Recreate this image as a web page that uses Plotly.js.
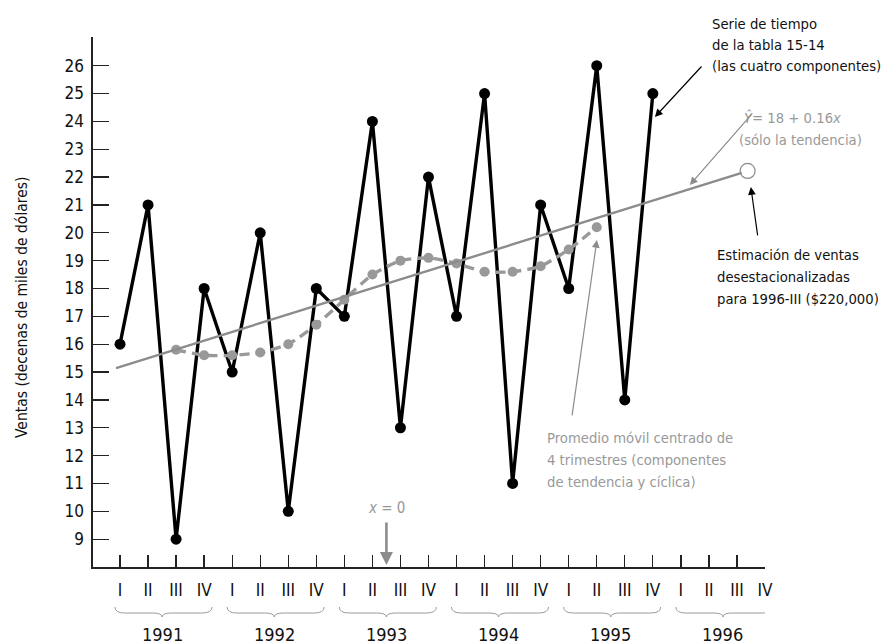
<!DOCTYPE html>
<html>
<head>
<meta charset="utf-8">
<script src="https://cdn.plot.ly/plotly-3.0.1.min.js"></script>
<style>html,body{margin:0;padding:0;background:#fff;}#chart{width:883px;height:644px;}</style>
</head>
<body>
<div id="chart"></div>
<script>
// ---- data ----
const quarters = ['I', 'II', 'III', 'IV'];
const years = [1991, 1992, 1993, 1994, 1995, 1996];
const sales = [16, 21, 9, 18, 15, 20, 10, 18, 17, 24, 13, 22, 17, 25, 11, 21, 18, 26, 14, 25];
const movingAvg = [15.8, 15.6, 15.6, 15.7, 16.0, 16.7, 17.6, 18.5, 19.0, 19.1, 18.9, 18.6, 18.6, 18.8, 19.4, 20.2];
const movingAvgStart = 2; // first centred average sits at 1991-III
const trendX = [-0.14, 22.17];
const trendY = [15.14, 22.15];
const estimateX = [22.38];
const estimateY = [22.22];
const yTicks = [9,10,11,12,13,14,15,16,17,18,19,20,21,22,23,24,25,26];
const xZero = 9.5;

// ---- derived ----
const tickLabels = [];
years.forEach(() => quarters.forEach(q => tickLabels.push(q)));
const idx = tickLabels.map((_, i) => i);
const salesX = sales.map((_, i) => i);
const maX = movingAvg.map((_, i) => i + movingAvgStart);

const FONT = '"Liberation Sans Narrow", "DejaVu Sans Condensed", "Arial Narrow", sans-serif';
const GRAY = '#999999';
const W = 883, H = 644, ML = 93, MR = 118, MT = 37, MB = 77;
const PW = W - ML - MR, PH = H - MT - MB;
const px = x => (x - ML) / PW;      // pixel -> paper x
const py = y => (H - MB - y) / PH;  // pixel -> paper y

const traces = [
  {x: salesX, y: sales, mode: 'lines+markers', line: {color: '#000', width: 3.4},
   marker: {color: '#000', size: 11}, hoverinfo: 'skip'},
  {x: maX, y: movingAvg, mode: 'lines+markers', line: {color: GRAY, width: 3.4, dash: '10px,6px', shape: 'spline', smoothing: 0.6},
   marker: {color: GRAY, size: 10}, hoverinfo: 'skip'},
  {x: trendX, y: trendY, mode: 'lines', line: {color: '#8c8c8c', width: 2.4}, hoverinfo: 'skip'},
  {x: estimateX, y: estimateY, mode: 'markers',
   marker: {symbol: 'circle-open', color: '#8c8c8c', size: 15, line: {width: 1.2, color: '#8c8c8c'}}, hoverinfo: 'skip'}
];

// braces under each year
const shapes = [];
const annotations = [];
const yb0 = py(607), yb1 = py(613), yb2 = py(617);
years.forEach((yr, k) => {
  const a = k * 4 - 0.18, b = k * 4 + 3.28, m = k * 4 + 1.5;
  const d = 0.35;
  const path = `M ${a},${yb0} Q ${a},${yb1} ${a + d},${yb1} L ${m - d},${yb1} Q ${m},${yb1} ${m},${yb2} Q ${m},${yb1} ${m + d},${yb1} L ${b - d},${yb1} Q ${b},${yb1} ${b},${yb0}`;
  shapes.push({type: 'path', xref: 'x', yref: 'paper', path: path, line: {color: '#9a9a9a', width: 1}});
  annotations.push({xref: 'x', yref: 'paper', x: m, y: py(634), text: String(yr), showarrow: false,
    xanchor: 'center', yanchor: 'middle', font: {family: FONT, size: 18, color: '#111'}});
});

const toX = p => (p - 120) / 28.05;
const toY = p => 26 - (p - 65.7) / 27.86;

function arrow(tail, head, color, width, headSize, style) {
  return {xref: 'x', yref: 'y', x: toX(head[0]), y: toY(head[1]), ax: tail[0] - head[0], ay: tail[1] - head[1],
    axref: 'pixel', ayref: 'pixel', text: '', showarrow: true, arrowcolor: color, arrowwidth: width,
    arrowhead: style, arrowsize: headSize, standoff: 0, startstandoff: 0};
}

function textLines(left, mids, lines, color) {
  lines.forEach((t, i) => annotations.push({xref: 'paper', yref: 'paper', x: px(left), y: py(mids[i] + 1), text: t,
    showarrow: false, xanchor: 'left', yanchor: 'middle', align: 'left', font: {family: FONT, size: 14.7, color: color}}));
}

textLines(710, [22, 43, 64], ['Serie de tiempo', 'de la tabla 15-14', '(las cuatro componentes)'], '#111');
textLines(742, [117], ['<i>Ŷ</i>= 18 + 0.16<i>x</i>'], GRAY);
textLines(737, [139], ['(sólo la tendencia)'], GRAY);
textLines(715, [253, 275, 297], ['Estimación de ventas', 'desestacionalizadas', 'para 1996-III ($220,000)'], '#111');
textLines(545, [437, 459, 480], ['Promedio móvil centrado de', '4 trimestres (componentes', 'de tendencia y cíclica)'], GRAY);

annotations.push(
  {xref: 'paper', yref: 'paper', x: px(22), y: py(307), text: 'Ventas (decenas de miles de dólares)', textangle: -90,
   showarrow: false, xanchor: 'center', yanchor: 'middle', font: {family: FONT, size: 15.5, color: '#111'}},
  {xref: 'x', yref: 'paper', x: xZero, y: py(508), text: '<i>x</i> = 0',
   showarrow: false, xanchor: 'center', yanchor: 'middle', font: {family: FONT, size: 15, color: GRAY}},
  arrow([703, 65], [655, 117], '#000', 1.2, 1.3, 2),
  arrow([753, 113], [690, 185], '#8c8c8c', 1.2, 1.3, 2),
  arrow([758, 237], [751, 187], '#000', 1.2, 1.3, 2),
  arrow([572, 417], [597, 240], '#8c8c8c', 1.2, 1.3, 2),
  {xref: 'x', yref: 'paper', x: xZero, y: py(565), ax: 0, ay: -44, axref: 'pixel', ayref: 'pixel', text: '', showarrow: true,
   arrowcolor: '#8c8c8c', arrowwidth: 2.6, arrowhead: 2, arrowsize: 1, standoff: 0}
);

const layout = {
  width: W, height: H,
  margin: {l: ML, r: MR, t: MT, b: MB, pad: 0},
  paper_bgcolor: '#fff', plot_bgcolor: '#fff',
  showlegend: false,
  font: {family: FONT, size: 17, color: '#111'},
  xaxis: {range: [-0.963, 23], tickvals: idx, ticktext: tickLabels, ticks: 'inside', ticklen: 12, tickwidth: 1.3,
    tickcolor: '#222', showline: true, linecolor: '#222', linewidth: 1.6, showgrid: false, zeroline: false,
    ticklabelstandoff: 7, tickfont: {family: FONT, size: 17, color: '#111'}, fixedrange: true},
  yaxis: {range: [8, 27.03], tickvals: yTicks, ticks: 'inside', ticklen: 16, tickwidth: 1.3, tickcolor: '#222',
    showline: true, linecolor: '#222', linewidth: 1.6, showgrid: false, zeroline: false,
    ticklabelstandoff: 4, tickfont: {family: FONT, size: 17, color: '#111'}, fixedrange: true},
  shapes: shapes,
  annotations: annotations
};

Plotly.newPlot('chart', traces, layout, {staticPlot: true, displayModeBar: false});
</script>
</body>
</html>
